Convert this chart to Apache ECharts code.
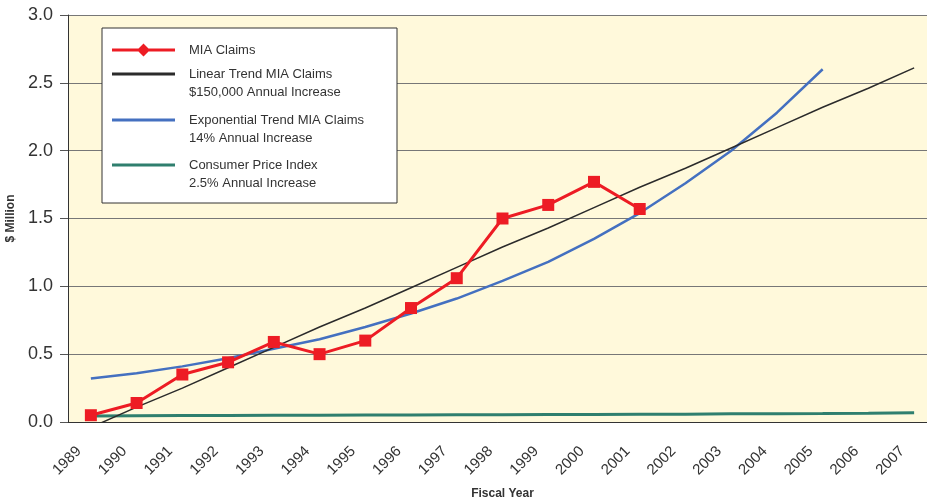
<!DOCTYPE html>
<html>
<head>
    <meta charset="utf-8">
    <script src="https://cdn.jsdelivr.net/npm/echarts@6/dist/echarts.min.js"></script>
    <style>
        html, body { margin: 0; padding: 0; background: #fff; }
    </style>
</head>
<body>
<div id="main" style="width:927px;height:502px;"></div>
<script type="text/javascript">
    // 财年
    var years = ['1989','1990','1991','1992','1993','1994','1995','1996','1997','1998',
                 '1999','2000','2001','2002','2003','2004','2005','2006','2007'];
    // $ Million
    var miaClaims   = [0.05, 0.14, 0.35, 0.44, 0.59, 0.50, 0.60, 0.84, 1.06, 1.50, 1.60, 1.77, 1.57];
    var linearTrend = [-0.04, 0.11, 0.25, 0.40, 0.55, 0.70, 0.84, 0.99, 1.14, 1.29,
                       1.43, 1.58, 1.73, 1.87, 2.02, 2.17, 2.32, 2.46, 2.61];
    var expTrend    = [0.32, 0.36, 0.41, 0.47, 0.54, 0.61, 0.70, 0.80, 0.91, 1.04,
                       1.18, 1.35, 1.54, 1.76, 2.00, 2.28, 2.60];
    var cpi         = [0.045, 0.046, 0.047, 0.048, 0.049, 0.050, 0.051, 0.052, 0.053, 0.054,
                       0.055, 0.056, 0.057, 0.058, 0.060, 0.061, 0.062, 0.064, 0.068];
    var yTicks = [0, 0.5, 1.0, 1.5, 2.0, 2.5, 3.0];

    var names = ['MIA Claims', 'Linear Trend MIA Claims', 'Exponential Trend MIA Claims', 'Consumer Price Index'];
    var notes = ['', '$150,000 Annual Increase', '14% Annual Increase', '2.5% Annual Increase'];
    var colors = ['#ED1C24', '#2B2B2B', '#4470C0', '#2F7F6E'];

    var font = 'Liberation Sans, Arial, sans-serif';
    var lineIcon = 'path://M0,0 L63,0 L63,3 L0,3 Z';
    var diamondIcon = 'path://M0,5.5 L63,5.5 L63,8.5 L0,8.5 Z M31.5,0.5 L38,7 L31.5,13.5 L25,7 Z';
    // 图标中心的 y
    var iconCenters = [50, 74, 120, 165];

    // 每个图例单独放；前面加一个空行，让第一行文字和图标对齐
    function makeLegend(i) {
        return {
            data: [{ name: names[i], icon: i === 0 ? diamondIcon : lineIcon }],
            left: 112,
            top: iconCenters[i] - 27,
            padding: 0,
            itemWidth: 63,
            itemHeight: 14,
            formatter: function (n) {
                return '\n' + n + '\n' + notes[i];
            },
            textStyle: {
                fontFamily: font,
                fontSize: 13,
                color: '#333',
                lineHeight: 18,
                padding: [0, 0, 0, 9]
            }
        };
    }

    var myChart = echarts.init(document.getElementById('main'));
    var option = {
        animation: false,
        backgroundColor: '#fff',
        textStyle: { fontFamily: font },
        grid: {
            left: 68, right: -10, top: 15, bottom: 80,
            show: true, backgroundColor: '#FFF9DB', borderWidth: 0,
            containLabel: false, outerBoundsMode: 'none'
        },
        graphic: [{
            type: 'rect', z: 3,
            shape: { x: 102, y: 28, width: 295, height: 175 },
            style: { fill: '#fff', stroke: '#333', lineWidth: 1 }
        }],
        legend: [makeLegend(0), makeLegend(1), makeLegend(2), makeLegend(3)],
        xAxis: {
            type: 'category',
            data: years,
            boundaryGap: true,
            name: 'Fiscal Year',
            nameLocation: 'middle',
            nameGap: 66,
            nameTextStyle: { fontWeight: 'bold', fontSize: 12, color: '#333', fontFamily: font },
            axisLine: { lineStyle: { color: '#333', width: 1 } },
            axisTick: { length: 6, lineStyle: { color: '#555' } },
            axisLabel: {
                interval: 0, rotate: 45, margin: 15, padding: [0, 17, 0, 0],
                fontSize: 15, color: '#333', fontFamily: font,
                showMinLabel: true, showMaxLabel: true
            },
            splitLine: { show: false }
        },
        yAxis: {
            type: 'value',
            min: yTicks[0],
            max: yTicks[yTicks.length - 1],
            interval: 0.5,
            name: '$ Million',
            nameLocation: 'middle',
            nameGap: 47,
            nameTextStyle: { fontWeight: 'bold', fontSize: 12, color: '#333', fontFamily: font },
            axisLine: { show: true, lineStyle: { color: '#333', width: 1 } },
            axisTick: { show: true, length: 8, lineStyle: { color: '#555' } },
            axisLabel: {
                margin: 15, fontSize: 18, color: '#333', fontFamily: font,
                formatter: function (v) { return v.toFixed(1); }
            },
            splitLine: { lineStyle: { color: '#777', width: 1 } }
        },
        series: [
            {
                name: names[3], type: 'line', data: cpi, z: 2,
                symbol: 'none', color: colors[3],
                lineStyle: { width: 3, color: colors[3] }
            },
            {
                name: names[2], type: 'line', data: expTrend, z: 3,
                symbol: 'none', color: colors[2],
                lineStyle: { width: 2.5, color: colors[2] }
            },
            {
                name: names[1], type: 'line', data: linearTrend, z: 4,
                symbol: 'none', color: colors[1],
                lineStyle: { width: 1.5, color: colors[1] }
            },
            {
                name: names[0], type: 'line', data: miaClaims, z: 5,
                symbol: 'rect', symbolSize: 12, color: colors[0],
                itemStyle: { color: colors[0] },
                lineStyle: { width: 3, color: colors[0] }
            }
        ]
    };
    myChart.setOption(option);
</script>
</body>
</html>
